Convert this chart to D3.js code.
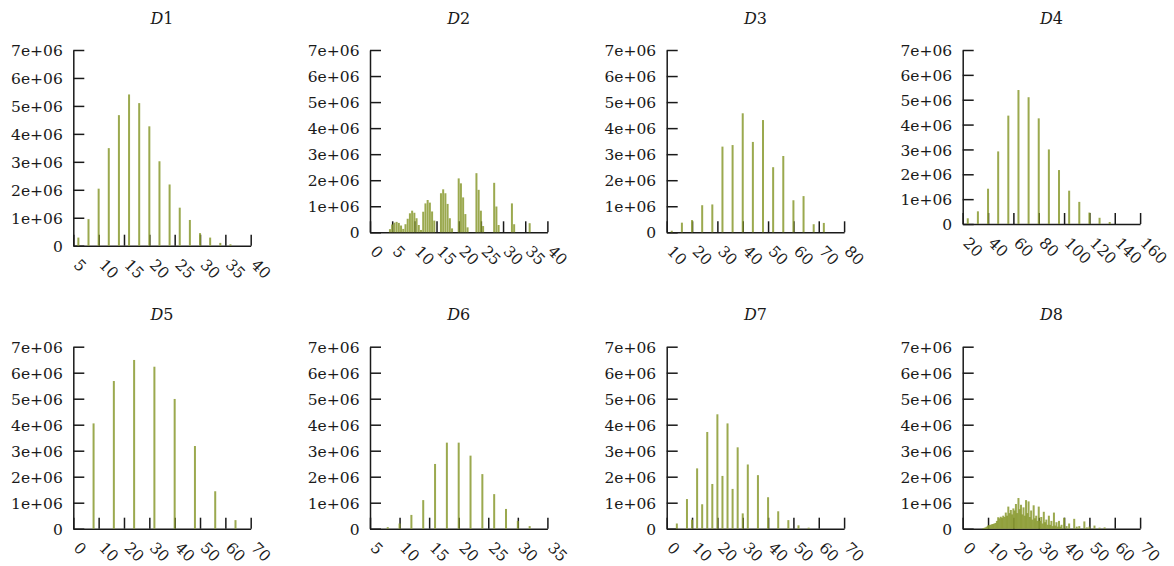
<!DOCTYPE html>
<html>
<head>
<meta charset="utf-8">
<script src="https://cdn.jsdelivr.net/npm/d3@7"></script>
<style>
  body { margin: 0; background: #ffffff; }
</style>
</head>
<body>
<svg id="chart" width="1174" height="566"></svg>
<script>
// Frequency counts for the eight distributions D1..D8

const d1Bins   = [6, 8, 10, 12, 14, 16, 18, 20, 22, 24, 26, 28, 30, 32, 34, 36];
const d1Counts = [2.9e5, 9.5e5, 2.04e6, 3.49e6, 4.67e6, 5.41e6, 5.10e6, 4.27e6,
                  3.02e6, 2.19e6, 1.36e6, 9.2e5, 4.5e5, 2.9e5, 1.0e5, 5e4];

const d2Bins   = [4.5, 5, 5.5, 6, 6.5, 7, 7.5,
                  8, 8.5, 9, 9.5, 10, 10.5, 11, 11.5,
                  12, 12.5, 13, 13.5, 14, 14.5,
                  16, 16.5, 17, 17.5, 18, 18.5,
                  20, 20.5, 21, 21.5, 22,
                  24, 24.5, 25, 25.5,
                  28, 28.5, 29,
                  32, 32.5,
                  36];
const d2Counts = [1.2e5, 3.0e5, 3.7e5, 4.0e5, 3.6e5, 2.6e5, 1.3e5,
                  3.1e5, 5.2e5, 7.3e5, 8.3e5, 7.5e5, 5.4e5, 2.8e5, 0.9e5,
                  7.9e5, 1.11e6, 1.24e6, 1.14e6, 8.0e5, 4.5e5,
                  1.5e6, 1.65e6, 1.5e6, 1.09e6, 5.4e5, 1.5e5,
                  2.07e6, 1.88e6, 1.34e6, 7.0e5, 1.9e5,
                  2.27e6, 1.63e6, 8.3e5, 2.4e5,
                  1.9e6, 9.9e5, 2.8e5,
                  1.11e6, 3.1e5,
                  3.5e5];

const d3Bins   = [12, 16, 20, 24, 28, 32, 36, 40, 44, 48, 52, 56, 60, 64, 68, 72];
const d3Counts = [6e4, 3.7e5, 4.7e5, 1.04e6, 1.07e6, 3.29e6, 3.35e6, 4.57e6,
                  3.47e6, 4.31e6, 2.5e6, 2.93e6, 1.23e6, 1.39e6, 3.1e5, 3.6e5];

const d4Bins   = [24, 32, 40, 48, 56, 64, 72, 80, 88, 96, 104, 112, 120, 128, 136];
const d4Counts = [2.3e5, 5.1e5, 1.42e6, 2.92e6, 4.36e6, 5.39e6, 5.1e6, 4.25e6,
                  3.0e6, 2.17e6, 1.34e6, 8.9e5, 4.6e5, 2.5e5, 8e4];

const d5Bins   = [8, 16, 24, 32, 40, 48, 56, 64];
const d5Counts = [4.05e6, 5.68e6, 6.49e6, 6.23e6, 4.99e6, 3.18e6, 1.44e6, 3.3e5];

const d6Bins   = [8, 10, 12, 14, 16, 18, 20, 22, 24, 26, 28, 30, 32];
const d6Counts = [6e4, 2e5, 5.3e5, 1.1e6, 2.49e6, 3.31e6, 3.31e6, 2.81e6,
                  2.1e6, 1.33e6, 7.6e5, 3.0e5, 1.0e5];

const d7Bins   = [4, 8, 10, 12, 14, 16, 18, 20, 22, 24, 26, 28, 30, 32, 36, 40, 44, 48, 52, 56];
const d7Counts = [2.0e5, 1.14e6, 3.5e5, 2.32e6, 9.4e5, 3.72e6, 1.72e6, 4.4e6,
                  2.03e6, 4.05e6, 1.53e6, 3.13e6, 5.9e5, 2.47e6, 2.06e6, 1.21e6,
                  6.7e5, 3.3e5, 1.3e5, 4e4];

const d8Bins   = [8, 8.5, 9, 9.5, 10, 10.5, 11, 11.5, 12, 12.5, 13, 13.5,
                  14, 14.5, 15, 15.5, 16, 16.5, 17, 17.5, 18, 18.5, 19, 19.5,
                  20, 20.5, 21, 21.5, 22, 22.5, 23, 23.5, 24, 24.5, 25, 25.5,
                  26, 26.5, 27, 27.5, 28, 28.5, 29, 29.5, 30, 30.5, 31, 31.5,
                  32, 32.5, 33, 33.5, 34, 34.5, 35, 35.5, 36, 36.5, 37, 37.5,
                  38, 38.5, 39, 40, 41, 42, 44, 45, 46, 48, 49, 50, 52, 54, 56];
const d8Counts = [2e4, 3e4, 5e4, 8e4, 1.2e5, 1.4e5, 1.5e5, 1.7e5, 1.8e5, 2.0e5, 2.2e5, 3.0e5,
                  4.4e5, 4.0e5, 4.6e5, 4.2e5, 5.0e5, 4.5e5, 6.2e5, 5.0e5, 8.5e5, 6.0e5, 7.2e5, 5.5e5,
                  7.8e5, 7.0e5, 9.5e5, 6.0e5, 1.18e6, 7.5e5, 9.2e5, 5.5e5, 8.2e5, 5.0e5, 1.1e6, 6.0e5,
                  1.05e6, 4.5e5, 7.0e5, 3.5e5, 9.0e5, 4.0e5, 5.0e5, 3.0e5, 8.5e5, 3.0e5, 4.5e5, 2.0e5,
                  6.5e5, 2.5e5, 3.5e5, 1.5e5, 5.0e5, 1.5e5, 3.0e5, 1.0e5, 6.2e5, 1.2e5, 2.5e5, 8e4,
                  3.0e5, 8e4, 1.5e5, 4.2e5, 1.0e5, 2.0e5, 3.8e5, 8e4, 1.0e5, 2.8e5, 5e4, 8e4, 1.2e5, 4e4, 5e4];

// Axis ticks
const yTickValues = [0, 1e6, 2e6, 3e6, 4e6, 5e6, 6e6, 7e6];
const yTickLabels = ["0", "1e+06", "2e+06", "3e+06", "4e+06", "5e+06", "6e+06", "7e+06"];

const d1Ticks = [5, 10, 15, 20, 25, 30, 35, 40];
const d2Ticks = [0, 5, 10, 15, 20, 25, 30, 35, 40];
const d3Ticks = [10, 20, 30, 40, 50, 60, 70, 80];
const d4Ticks = [20, 40, 60, 80, 100, 120, 140, 160];
const d5Ticks = [0, 10, 20, 30, 40, 50, 60, 70];
const d6Ticks = [5, 10, 15, 20, 25, 30, 35];
const d7Ticks = [0, 10, 20, 30, 40, 50, 60, 70];
const d8Ticks = [0, 10, 20, 30, 40, 50, 60, 70];

const panelNames = ["1", "2", "3", "4", "5", "6", "7", "8"];

// Panel frames (pixel layout of each small plot)
const frames = [
  { left: 73.3,  top: 50,    bottom: 245.7, titleY: 24 },
  { left: 370,   top: 50,    bottom: 232.3, titleY: 24 },
  { left: 666.7, top: 50,    bottom: 232.3, titleY: 24 },
  { left: 962.7, top: 50,    bottom: 224,   titleY: 24 },
  { left: 73.3,  top: 346.7, bottom: 528.7, titleY: 320 },
  { left: 370,   top: 346.7, bottom: 528.7, titleY: 320 },
  { left: 666.7, top: 346.7, bottom: 528.7, titleY: 320 },
  { left: 962.7, top: 346.7, bottom: 528.7, titleY: 320 }
];
const plotWidth = 177.4;

const series = [
  [d1Bins, d1Counts, d1Ticks],
  [d2Bins, d2Counts, d2Ticks],
  [d3Bins, d3Counts, d3Ticks],
  [d4Bins, d4Counts, d4Ticks],
  [d5Bins, d5Counts, d5Ticks],
  [d6Bins, d6Counts, d6Ticks],
  [d7Bins, d7Counts, d7Ticks],
  [d8Bins, d8Counts, d8Ticks]
];

const FONT = "'DejaVu Serif', 'Liberation Serif', serif";
const FONT_SIZE = 15.5;
const INK = "#1a1a1a";
const BAR = "#8a9a30";

const svg = d3.select("#chart");

series.forEach(([bins, counts, ticks], i) => {
  const f = frames[i];
  const right = f.left + plotWidth;

  const x = d3.scaleLinear()
    .domain([ticks[0], ticks[ticks.length - 1]])
    .range([f.left, right]);
  const y = d3.scaleLinear()
    .domain([0, 7e6])
    .range([f.bottom, f.top]);

  const g = svg.append("g");

  // left axis with inward ticks
  const yAxis = g.append("g")
    .attr("transform", `translate(${f.left},0)`)
    .call(d3.axisLeft(y)
      .tickValues(yTickValues)
      .tickFormat((d, k) => yTickLabels[k])
      .tickSizeInner(-11)
      .tickSizeOuter(0)
      .tickPadding(10.5));

  // bottom axis with inward ticks
  const xAxis = g.append("g")
    .attr("transform", `translate(0,${f.bottom})`)
    .call(d3.axisBottom(x)
      .tickValues(ticks)
      .tickFormat(d3.format("d"))
      .tickSizeInner(-11)
      .tickSizeOuter(0));

  [yAxis, xAxis].forEach(a => {
    a.attr("font-family", FONT)
     .attr("font-size", FONT_SIZE)
     .attr("color", INK);
    a.selectAll("line, path").attr("stroke-width", 1.5);
    a.selectAll("text").attr("fill", INK);
  });

  yAxis.selectAll("text").attr("dy", "0.36em");

  // slanted x tick labels
  xAxis.selectAll("text")
    .attr("y", null)
    .attr("dy", null)
    .attr("text-anchor", "start")
    .attr("transform", "translate(-1,20) rotate(45)");

  // histogram bars
  g.append("g")
    .selectAll("rect")
    .data(d3.zip(bins, counts))
    .join("rect")
    .attr("x", d => x(d[0]) - 1)
    .attr("width", 2)
    .attr("y", d => y(d[1]))
    .attr("height", d => y(0) - y(d[1]))
    .attr("fill", BAR)
    .attr("fill-opacity", 0.85);

  // panel title
  const t = g.append("text")
    .attr("x", (f.left + right) / 2)
    .attr("y", f.titleY)
    .attr("text-anchor", "middle")
    .attr("font-family", FONT)
    .attr("font-size", 16)
    .attr("fill", INK);
  t.append("tspan").attr("font-style", "italic").text("D");
  t.append("tspan").text(panelNames[i]);
});
</script>
</body>
</html>
